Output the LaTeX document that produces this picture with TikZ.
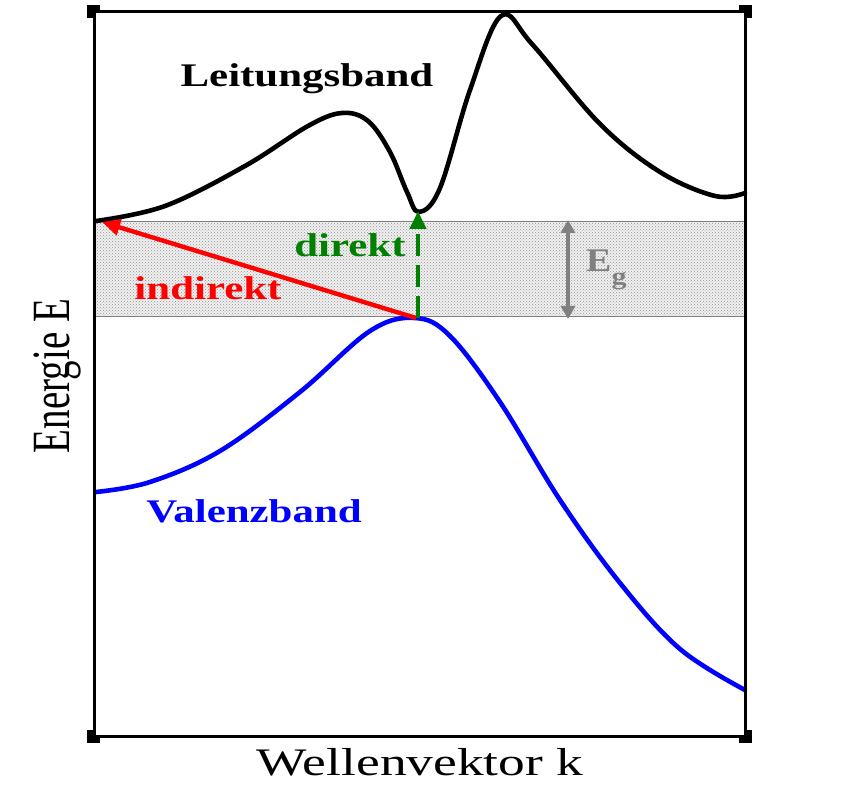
\documentclass[tikz,border=0pt]{standalone}
\usepackage{fontspec}
\setmainfont{Liberation Serif}
\usetikzlibrary{arrows.meta,patterns}
\definecolor{dgreen}{RGB}{0,128,0}
\definecolor{egray}{RGB}{128,128,128}
\tikzset{
  band/.style={line width=4.6pt, line join=round, line cap=round},
  boldlbl/.style={font=\fontsize{33}{36}\selectfont\bfseries, inner sep=0pt, anchor=base},
  axislbl/.style={font=\fontsize{39}{42}\selectfont, inner sep=0pt, anchor=base},
  frameline/.style={line width=3pt},
  trans/.style={line width=4.4pt},
  tip/.style={-{Triangle[length=18pt,width=16pt]}},
}
\begin{document}
\begin{tikzpicture}[x=1pt,y=-1pt]
\useasboundingbox (0,0) rectangle (847,786);
% gap region
\fill[gray!12] (94,222) rectangle (745,317);
\fill[pattern=crosshatch dots, pattern color=gray!85] (94,222) rectangle (745,317);
\draw[egray, line width=1pt] (94,222) -- (745,222) (94,317) -- (745,317);
% conduction band
\draw[band, black] plot[smooth, tension=0.6] coordinates {
 (96,221) (165,206) (245,166) (308,126) (342,113) (368,121)
 (390,152) (407,192) (419,212) (440,188) (470,90) (501,16) (532,44)
 (600,124) (660,172) (715,196) (745,193)};
% valence band
\draw[band, blue] plot[smooth, tension=0.6] coordinates {
 (96,492) (150,482) (220,451) (300,392) (370,331) (415,318)
 (450,336) (500,402) (560,500) (620,583) (680,649) (745,690)};
% frame with corner handles
\draw[frameline] (94,12) rectangle (745,736);
\foreach \cx/\cy/\dx/\dy in {94/12/-1/-1, 745/12/1/-1, 94/736/-1/1, 745/736/1/1} {
  \fill[black] (\cx+7*\dx, \cy+7*\dy) rectangle (\cx-6*\dx, \cy-6*\dy);
  \fill[white] (\cx-1.5*\dx, \cy-1.5*\dy) rectangle (\cx-6*\dx, \cy-6*\dy);
}
% key points
\coordinate (vbmax) at (416,318);
\coordinate (cbleft) at (102,222);
\coordinate (cbmin) at (418,211);
\coordinate (gtop) at (568,220);
\coordinate (gbot) at (568,319);
% transitions
\draw[trans, red, tip] (vbmax) -- (cbleft);
\draw[trans, dgreen, tip, dash pattern=on 22pt off 9pt] (vbmax -| cbmin) -- (cbmin);
\draw[egray, line width=3.5pt, {Triangle[length=13pt,width=14pt]}-{Triangle[length=13pt,width=14pt]}] (gtop) -- (gbot);
% labels
\node[boldlbl, black] (lb) at (307,87) {\scalebox{1.3}[1]{Leitungsband}};
\node[boldlbl, blue] (vb) at (254,522) {\scalebox{1.3}[1]{Valenzband}};
\node[boldlbl, dgreen] (dir) at (350,257) {\scalebox{1.3}[1]{direkt}};
\node[boldlbl, red] (ind) at (208,300) {\scalebox{1.3}[1]{indirekt}};
\node[boldlbl, egray, anchor=base west] (eg) at (586,272) {\scalebox{1.15}[1]{E}\raisebox{-13pt}{\fontsize{24}{24}\selectfont\scalebox{1.25}[1]{g}}};
\node[axislbl] (xl) at (420,775) {\scalebox{1.37}[1]{Wellenvektor k}};
\node[axislbl, rotate=90] (yl) at (69,376) {\scalebox{1}[1.38]{Energie E}};
\end{tikzpicture}
\end{document}
